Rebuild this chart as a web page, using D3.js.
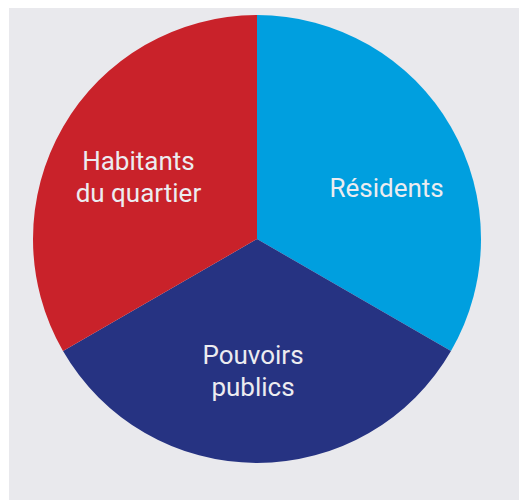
<html>
<head><meta charset="utf-8"></head>
<script src='https://d3js.org/d3.v7.min.js'></script>
<style>
  body { margin: 0; background: #fff; }
  text { font-family: Roboto, 'Noto Sans', sans-serif; fill: #ececf0; }
</style>
<body>
<svg width=519 height=500></svg>
<script>
// three equal shares, clockwise from 12 o'clock
var labels = [["Résidents"], ["Pouvoirs", "publics"], ["Habitants", "du quartier"]];
var values = [1, 1, 1];
var colors = ["#009fdf", "#263382", "#c9222a"];

var svg = d3.select("svg");

svg.append("rect")
  .attr("x", 9).attr("y", 8)
  .attr("width", 510).attr("height", 492)
  .attr("fill", "#e9e9ed");

var cx = 257, cy = 239, r = 224;
var g = svg.append("g").attr("transform", "translate(" + cx + "," + cy + ")");

var pie = d3.pie().sort(null).value(function(d) { return d; });
var arcs = pie(values);
var arc = d3.arc().innerRadius(0).outerRadius(r);

g.selectAll("path")
  .data(arcs)
  .enter()
  .append("path")
  .attr("d", arc)
  .attr("fill", function(d, i) { return colors[i]; });

// label anchors, nudged a bit off the centroid like the original
var nudge = [[17, 14], [-4, 2], [-6, 3]];
var labelArc = d3.arc().innerRadius(130).outerRadius(130);

var lbl = g.selectAll("text.lbl")
  .data(arcs)
  .enter()
  .append("text")
  .attr("class", "lbl")
  .attr("text-anchor", "middle")
  .attr("font-size", 26)
  .attr("transform", function(d, i) {
    var c = labelArc.centroid(d);
    return "translate(" + (c[0] + nudge[i][0]) + "," + (c[1] + nudge[i][1]) + ")";
  });

lbl.each(function(d, i) {
  var lines = labels[i];
  var t = d3.select(this);
  lines.forEach(function(s, j) {
    t.append("tspan")
      .attr("x", 0)
      .attr("y", (j - (lines.length - 1) / 2) * 32 + 9)
      .text(s);
  });
});
</script>
</body>
</html>
